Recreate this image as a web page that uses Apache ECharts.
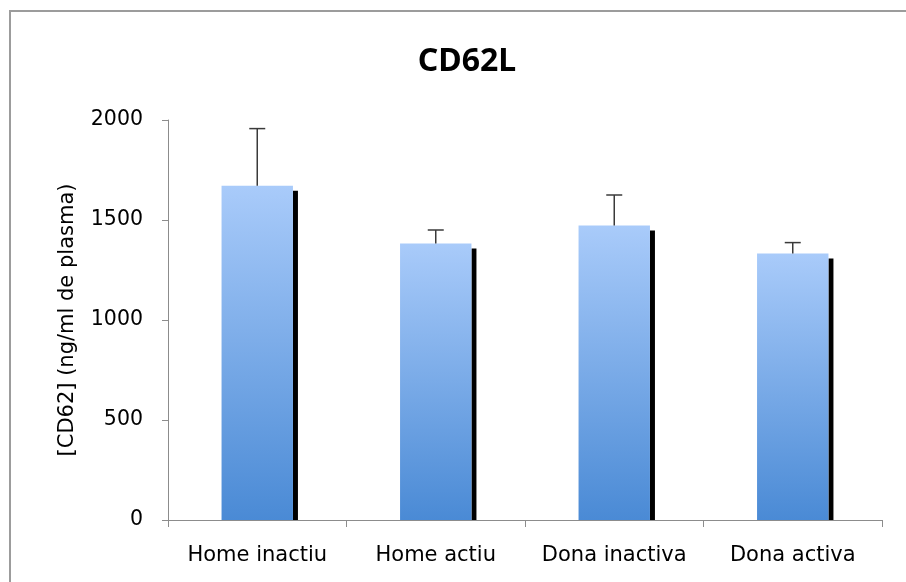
<!DOCTYPE html>
<html>
<head>
<meta charset="utf-8">
<script src="https://cdn.jsdelivr.net/npm/echarts@6/dist/echarts.min.js"></script>
<style>
html,body{margin:0;padding:0;background:#fff;}
#chart{width:906px;height:582px;}
</style>
</head>
<body>
<div id="chart"></div>
<script>
var categories = ['Home inactiu', 'Home actiu', 'Dona inactiva', 'Dona activa'];
var means = [1671, 1383, 1472, 1332];
var errors = [286, 67, 153, 55];
var yTicks = [0, 500, 1000, 1500, 2000];

var chart = echarts.init(document.getElementById('chart'));
var FONT = 'DejaVu Sans';

var data = categories.map(function (c, i) { return [i, means[i], errors[i]]; });

function renderItem(params, api) {
  var idx = api.value(0);
  var val = api.value(1);
  var err = api.value(2);
  var band = api.size([1, 0])[0];
  var bw = band * 0.4;
  var top = api.coord([idx, val]);
  var base = api.coord([idx, 0]);
  var errTop = api.coord([idx, val + err]);
  var cx = top[0];
  var left = cx - bw / 2;
  var right = cx + bw / 2;
  var sh = 5;
  return {
    type: 'group',
    children: [
      {
        type: 'rect',
        shape: { x: right, y: top[1] + sh, width: sh, height: base[1] - top[1] - sh },
        style: { fill: '#000' }
      },
      {
        type: 'rect',
        shape: { x: left, y: top[1], width: bw, height: base[1] - top[1] },
        style: {
          fill: {
            type: 'linear', x: 0, y: 0, x2: 0, y2: 1,
            colorStops: [
              { offset: 0, color: '#a9cbfa' },
              { offset: 1, color: '#4a8ad5' }
            ]
          }
        }
      },
      {
        type: 'line',
        shape: { x1: cx, y1: top[1], x2: cx, y2: errTop[1] },
        style: { stroke: '#3a3a3a', lineWidth: 1.5 }
      },
      {
        type: 'line',
        shape: { x1: cx - 8, y1: errTop[1], x2: cx + 8, y2: errTop[1] },
        style: { stroke: '#3a3a3a', lineWidth: 1.5 }
      }
    ]
  };
}

chart.setOption({
  animation: false,
  backgroundColor: '#fff',
  title: {
    text: 'CD62L',
    left: 462,
    top: 41,
    textAlign: 'center',
    textStyle: { fontFamily: 'Noto Sans', fontSize: 32, fontWeight: 'bold', color: '#000' }
  },
  graphic: [{
    type: 'rect',
    shape: { x: 10, y: 11, width: 1000, height: 1000 },
    style: { fill: 'none', stroke: '#9c9c9c', lineWidth: 2 },
    silent: true
  }],
  grid: { left: 168, right: 24, top: 120, bottom: 62, containLabel: false },
  xAxis: {
    type: 'category',
    data: categories,
    boundaryGap: true,
    axisLine: { lineStyle: { color: '#8c8c8c', width: 1 } },
    axisTick: { show: true, interval: 0, length: 7, lineStyle: { color: '#8c8c8c' } },
    axisLabel: { interval: 0, hideOverlap: false, fontFamily: FONT, fontSize: 21, color: '#000', margin: 25 }
  },
  yAxis: {
    type: 'value',
    min: 0,
    max: 2000,
    interval: 500,
    name: '[CD62] (ng/ml de plasma)',
    nameLocation: 'middle',
    nameRotate: 90,
    nameGap: 90,
    nameTextStyle: { fontFamily: FONT, fontSize: 21, color: '#000' },
    axisLine: { show: true, lineStyle: { color: '#8c8c8c', width: 1 } },
    axisTick: { show: true, length: 6, lineStyle: { color: '#8c8c8c' } },
    splitLine: { show: false },
    axisLabel: {
      fontFamily: FONT, fontSize: 20.5, color: '#000', margin: 25,
      formatter: function (v) { return yTicks.indexOf(v) >= 0 ? String(v) : ''; }
    }
  },
  series: [{
    type: 'custom',
    renderItem: renderItem,
    data: data,
    encode: { x: 0, y: 1 },
    clip: false
  }]
});
</script>
</body>
</html>
